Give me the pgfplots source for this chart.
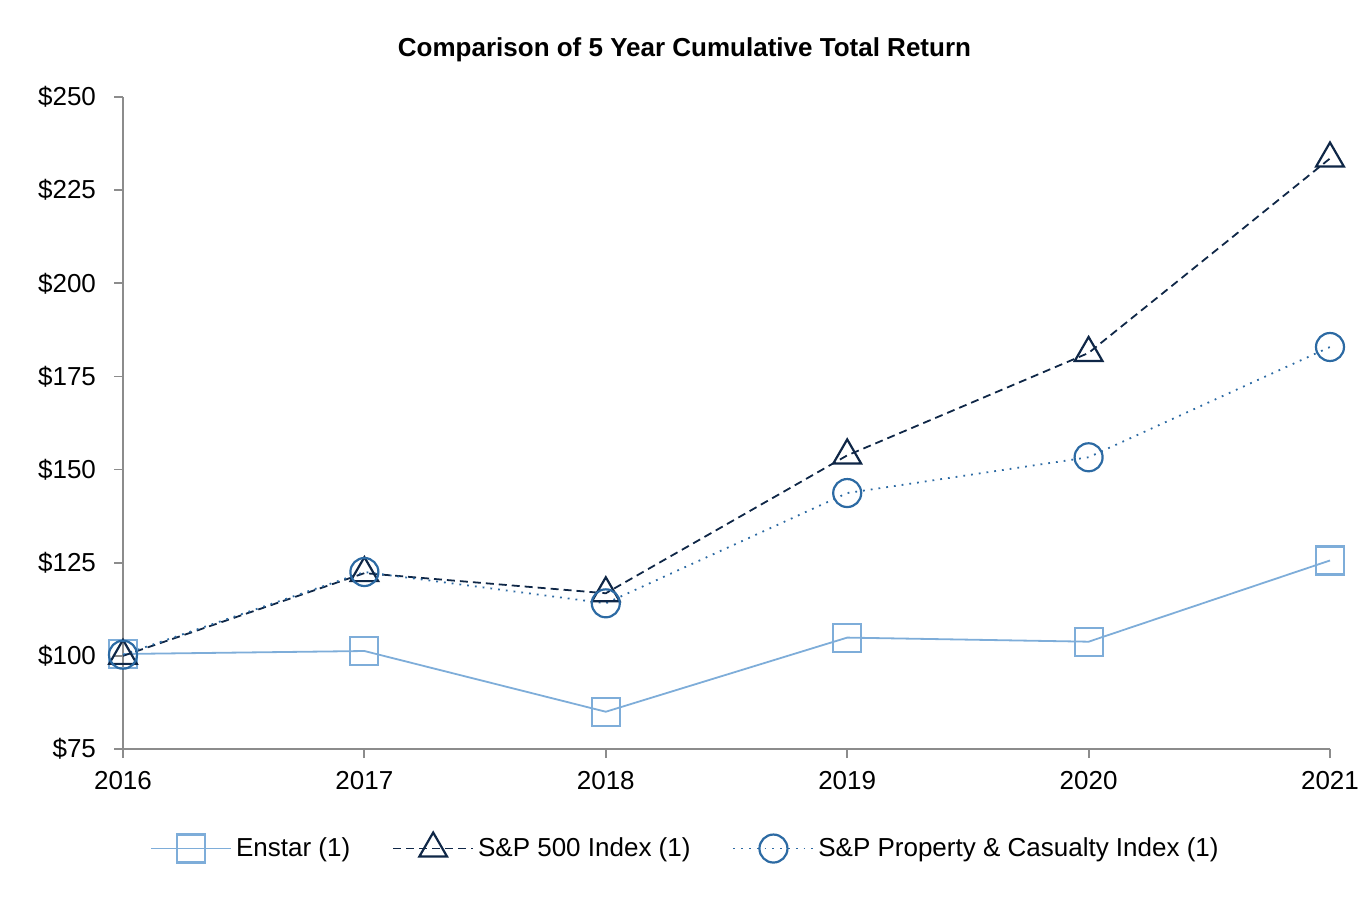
\documentclass[border=0pt]{standalone}
\usepackage{fontspec}
\setmainfont{Liberation Sans}
\usepackage{pgfplots}
\pgfplotsset{compat=1.18}
\definecolor{enstar}{HTML}{7EADD9}
\definecolor{spfive}{HTML}{0F2747}
\definecolor{pandc}{HTML}{2C6AA3}
\definecolor{axgray}{HTML}{8C8C8C}
\begin{document}
\begin{tikzpicture}
\begin{axis}[
  scale only axis,
  width=603.5pt, height=326pt,
  xmin=2016, xmax=2021, ymin=75, ymax=250,
  xtick={2016,2017,2018,2019,2020,2021},
  xticklabels={2016,2017,2018,2019,2020,2021},
  ytick={75,100,125,150,175,200,225,250},
  yticklabels={\$75,\$100,\$125,\$150,\$175,\$200,\$225,\$250},
  axis x line*=bottom, axis y line*=left,
  axis line style={axgray, line width=0.9pt, -},
  tick style={axgray, line width=0.9pt},
  tick align=outside,
  major tick length=4.5pt,
  ticklabel style={font=\fontsize{13}{15}\selectfont, text=black},
  xticklabel style={yshift=-3pt},
  yticklabel style={xshift=-5.5pt},
  clip=false,
  title={\bfseries Comparison of 5 Year Cumulative Total Return},
  title style={font=\fontsize{13}{15}\selectfont, at={(0.5,1)}, anchor=center, yshift=17.5pt, xshift=-21pt},
  legend style={draw=none, at={(0.5,0)}, anchor=center, yshift=-49.5pt, xshift=-20pt,
    font=\fontsize{13}{15}\selectfont, /tikz/every even column/.append style={column sep=19pt}},
  legend columns=3,
  legend image code/.code={
    \draw[mark repeat=2,mark phase=2] plot coordinates {(0pt,0pt)(20pt,0pt)(40pt,0pt)};
  },
]
\addplot[enstar, line width=0.9pt, mark=square, mark size=7pt, mark options={solid, line width=1.1pt}]
  coordinates {(2016,100.5)(2017,101.3)(2018,85.0)(2019,104.9)(2020,103.8)(2021,125.6)};
\addlegendentry{Enstar (1)}
\addplot[spfive, line width=0.9pt, dash pattern=on 4pt off 2.5pt, mark=triangle, mark size=8pt, mark options={solid, line width=1.1pt}]
  coordinates {(2016,100)(2017,122.2)(2018,116.8)(2019,153.8)(2020,181.3)(2021,233.5)};
\addlegendentry{S\&P 500 Index (1)}
\addplot[pandc, line width=0.9pt, dash pattern=on 0.9pt off 3pt, mark=o, mark size=7pt, mark options={solid, line width=1.1pt}]
  coordinates {(2016,100.3)(2017,122.5)(2018,114.1)(2019,143.7)(2020,153.3)(2021,182.9)};
\addlegendentry{S\&P Property \& Casualty Index (1)}
\end{axis}
\pgfresetboundingbox
\path (-61.5pt,-78.5pt) rectangle (621.5pt,374.5pt);
\end{tikzpicture}
\end{document}
